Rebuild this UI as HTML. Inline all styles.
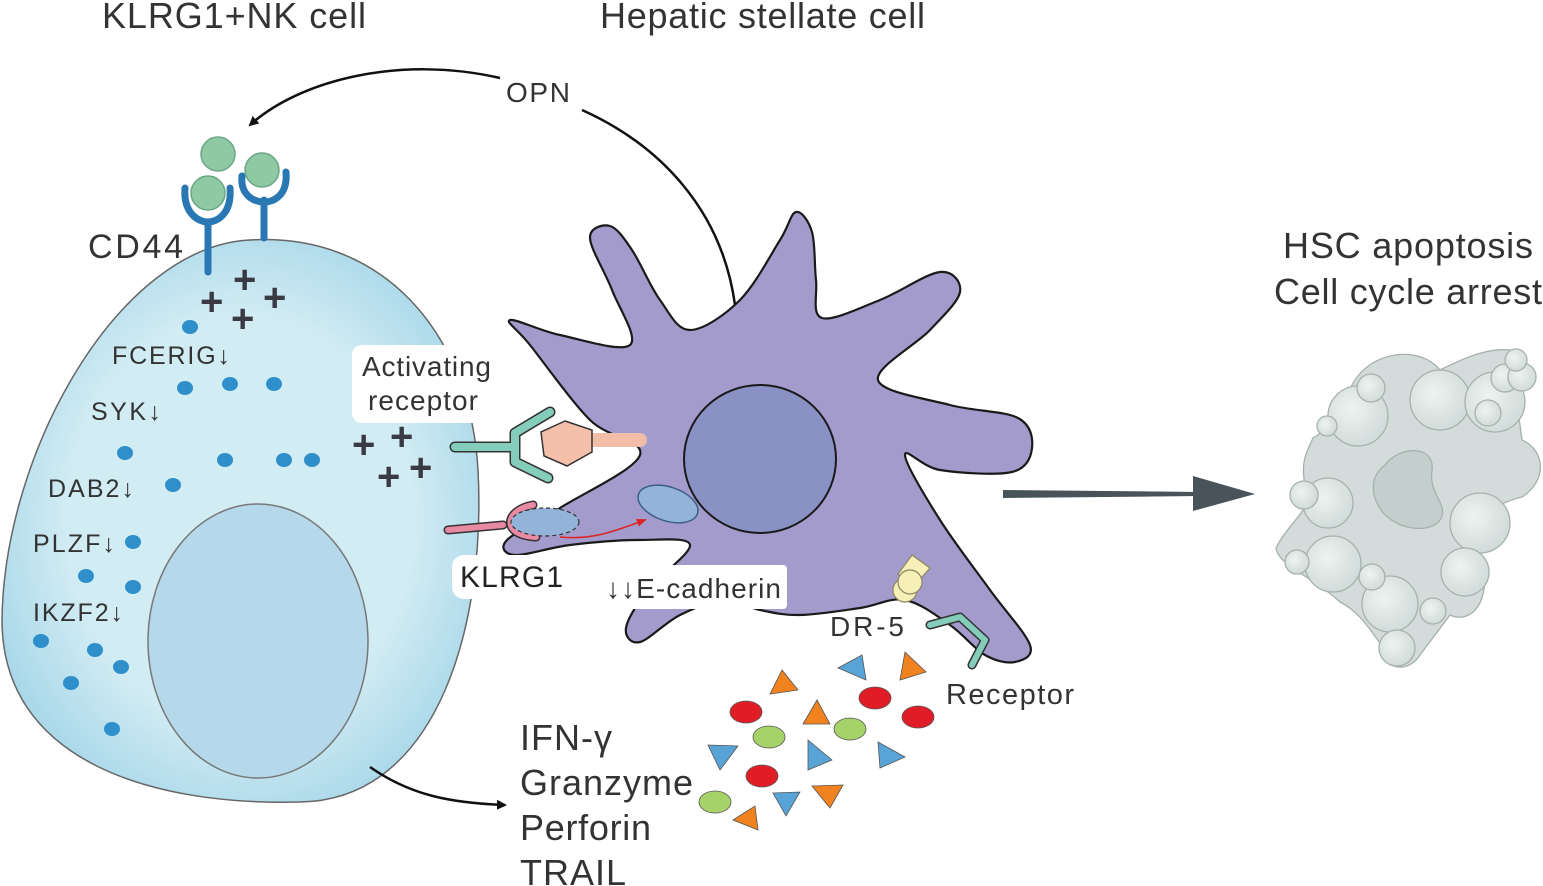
<!DOCTYPE html>
<html><head><meta charset="utf-8"><style>
html,body{margin:0;padding:0;background:#fff}
svg{display:block}
text{font-family:"Liberation Sans",sans-serif;fill:#333}
</style></head><body>
<svg id="s" width="1543" height="886" viewBox="0 0 1543 886" xmlns="http://www.w3.org/2000/svg">
<defs>
<radialGradient id="nk" cx="0.5" cy="0.5" r="0.6">
<stop offset="0.6" stop-color="#d2ecf4"/><stop offset="1" stop-color="#9fd3e6"/></radialGradient>
<radialGradient id="gb" cx="0.4" cy="0.4" r="0.7"><stop offset="0" stop-color="#eef3f1"/><stop offset="1" stop-color="#cdd8d6"/></radialGradient>
<marker id="ah" markerWidth="10" markerHeight="10" refX="8" refY="5" orient="auto" markerUnits="userSpaceOnUse"><path d="M0,0 L10,5 L0,10 z" fill="#111"/></marker>
<marker id="ahr" markerWidth="10" markerHeight="10" refX="8" refY="5" orient="auto" markerUnits="userSpaceOnUse"><path d="M0,1 L10,5 L0,9 z" fill="#d22"/></marker>
</defs>

<text x="102" y="28" font-size="36" textLength="264">KLRG1+NK cell</text>
<text x="600" y="28" font-size="36" textLength="325">Hepatic stellate cell</text>
<text x="1283" y="258" font-size="36" textLength="250">HSC apoptosis</text>
<text x="1274" y="304" font-size="36" textLength="268">Cell cycle arrest</text>

<!-- OPN arc -->
<path d="M735,305 C722,210 660,145 582,110" fill="none" stroke="#111" stroke-width="2.5"/>
<path d="M500,78 C400,55 300,80 250,125" fill="none" stroke="#111" stroke-width="2.5" marker-end="url(#ah)"/>
<text x="506" y="102" font-size="28" textLength="64">OPN</text>

<!-- NK cell -->
<path d="M250,240 C380,232 470,330 478,470 C486,620 440,800 300,802 C150,806 2,760 2,620 C4,450 120,246 250,240 Z" fill="url(#nk)" stroke="#666" stroke-width="1.5"/>
<ellipse cx="258" cy="641" rx="110" ry="137" fill="#b5d8ea" stroke="#777" stroke-width="1.5"/>

<!-- CD44 -->
<g stroke="#2a78b3" stroke-width="7" fill="none" stroke-linecap="round">
<path d="M208,272 V222 M185,188 C183,215 200,222 208,222 C216,222 232,215 230,188"/>
<path d="M264,238 V200 M242,176 C240,196 255,202 264,202 C273,202 288,196 286,172"/>
</g>
<g fill="#8fc9a3" stroke="#6aa686" stroke-width="1.5">
<circle cx="218" cy="154" r="17"/><circle cx="262" cy="170" r="17"/><circle cx="208" cy="193" r="17"/>
</g>
<text x="88" y="258" font-size="34" textLength="95">CD44</text>
<g font-size="40" font-weight="bold">
<text x="233" y="293" style="fill:#3a3a44">+</text><text x="200" y="315" style="fill:#3a3a44">+</text><text x="263" y="311" style="fill:#3a3a44">+</text><text x="231" y="332" style="fill:#3a3a44">+</text>
<text x="352" y="458" style="fill:#3a3a44">+</text><text x="390" y="450" style="fill:#3a3a44">+</text><text x="377" y="490" style="fill:#3a3a44">+</text><text x="409" y="481" style="fill:#3a3a44">+</text>
</g>
<g fill="#2e8fca">
<ellipse cx="190" cy="327" rx="8" ry="7"/><ellipse cx="185" cy="388" rx="8" ry="7"/><ellipse cx="230" cy="384" rx="8" ry="7"/><ellipse cx="274" cy="384" rx="8" ry="7"/>
<ellipse cx="125" cy="453" rx="8" ry="7"/><ellipse cx="225" cy="460" rx="8" ry="7"/><ellipse cx="284" cy="460" rx="8" ry="7"/><ellipse cx="312" cy="460" rx="8" ry="7"/>
<ellipse cx="173" cy="485" rx="8" ry="7"/><ellipse cx="133" cy="542" rx="8" ry="7"/><ellipse cx="86" cy="576" rx="8" ry="7"/><ellipse cx="133" cy="587" rx="8" ry="7"/>
<ellipse cx="41" cy="641" rx="8" ry="7"/><ellipse cx="95" cy="650" rx="8" ry="7"/><ellipse cx="121" cy="667" rx="8" ry="7"/><ellipse cx="71" cy="683" rx="8" ry="7"/><ellipse cx="112" cy="729" rx="8" ry="7"/>
</g>
<g font-size="25">
<text x="112" y="364" textLength="118">FCERIG↓</text><text x="91" y="420" textLength="70">SYK↓</text><text x="48" y="497" textLength="86">DAB2↓</text><text x="33" y="552" textLength="82">PLZF↓</text><text x="33" y="621" textLength="90">IKZF2↓</text>
</g>

<!-- Stellate cell -->
<path id="hsc" d="" fill="#a39bcb" stroke="#1a1a1a" stroke-width="2.2"/>
<ellipse cx="760" cy="459" rx="76" ry="74" fill="#8a91c5" stroke="#1a1a1a" stroke-width="2"/>
<ellipse cx="668" cy="504" rx="31" ry="17" transform="rotate(18 668 504)" fill="#93b4d8" stroke="#3b5e86" stroke-width="1.5"/>

<!-- activating receptor -->
<rect x="352" y="345" width="145" height="78" rx="10" fill="#fff"/>
<text x="362" y="376" font-size="28" textLength="129">Activating</text><text x="368" y="410" font-size="28" textLength="110">receptor</text>
<path d="M586,440 L640,440" stroke="#f1bfa9" stroke-width="14" stroke-linecap="round"/>
<path d="M565,421 L592,430 L592,452 L567,466 L544,456 L541,432 Z" fill="#f4c0aa" stroke="#333" stroke-width="1.5"/>
<g stroke="#333" stroke-width="11" fill="none" stroke-linecap="round" stroke-linejoin="round"><path d="M455,447 H515 M550,412 L515,433 V462 L548,478"/></g>
<g stroke="#84cdbb" stroke-width="8" fill="none" stroke-linecap="round" stroke-linejoin="round"><path d="M455,447 H515 M550,412 L515,433 V462 L548,478"/></g>

<!-- KLRG1 -->
<g stroke="#333" stroke-width="9" fill="none" stroke-linecap="round"><path d="M448,530 L503,525 M533,505 C505,510 500,535 536,537"/></g>
<g stroke="#e88aa3" stroke-width="6" fill="none" stroke-linecap="round"><path d="M448,530 L503,525 M533,505 C505,510 500,535 536,537"/></g>
<ellipse cx="545" cy="522" rx="34" ry="14" fill="#93b4d8" stroke="#333" stroke-width="1.2" stroke-dasharray="4,3"/>
<path d="M560,537 C590,540 610,533 645,520" fill="none" stroke="#d22" stroke-width="1.5" marker-end="url(#ahr)"/>
<rect x="452" y="555" width="122" height="44" rx="12" fill="#fff"/>
<text x="460" y="587" font-size="30" textLength="103" style="fill:#222">KLRG1</text>
<rect x="602" y="565" width="185" height="44" rx="4" fill="#fff"/>
<text x="606" y="598" font-size="28" textLength="175">↓↓E-cadherin</text>

<!-- DR-5 -->
<g fill="#f6efb8" stroke="#8b8660" stroke-width="1.2">
<path d="M912,555 L930,568 L915,585 L898,574 Z"/><circle cx="905" cy="590" r="12"/><circle cx="910" cy="582" r="12"/>
</g>
<text x="830" y="636" font-size="28" textLength="74">DR-5</text>
<g stroke="#333" stroke-width="9" fill="none" stroke-linecap="round" stroke-linejoin="round"><path d="M930,625 L960,617 L985,640 L972,665"/></g>
<g stroke="#84cdbb" stroke-width="6" fill="none" stroke-linecap="round" stroke-linejoin="round"><path d="M930,625 L960,617 L985,640 L972,665"/></g>
<text x="946" y="704" font-size="29" textLength="128">Receptor</text>

<!-- cytokines -->
<g stroke="#555" stroke-width="0.8">
<g fill="#e01d26"><ellipse cx="746" cy="712" rx="16" ry="11"/><ellipse cx="875" cy="698" rx="16" ry="11"/><ellipse cx="918" cy="717" rx="16" ry="11"/><ellipse cx="762" cy="776" rx="16" ry="11"/></g>
<g fill="#a6d26a"><ellipse cx="769" cy="737" rx="16" ry="11"/><ellipse cx="850" cy="729" rx="16" ry="11"/><ellipse cx="715" cy="802" rx="16" ry="11"/></g>
<g fill="#f0831f"><path d="M770,694 L782,670 L798,690 Z"/><path d="M900,680 L905,652 L926,672 Z"/><path d="M803,724 L817,700 L830,724 Z"/><path d="M812,786 L843,785 L830,808 Z"/><path d="M733,820 L755,806 L758,830 Z"/></g>
<g fill="#58a4d6"><path d="M838,668 L862,655 L866,680 Z"/><path d="M708,745 L738,746 L720,770 Z"/><path d="M808,740 L832,760 L808,770 Z"/><path d="M878,742 L905,757 L880,768 Z"/><path d="M773,793 L800,792 L786,816 Z"/></g>
</g>
<g font-size="36"><text x="520" y="750" textLength="92">IFN-γ</text><text x="520" y="795" textLength="173">Granzyme</text><text x="520" y="840" textLength="131">Perforin</text><text x="520" y="885" textLength="106">TRAIL</text></g>
<path d="M370,767 C410,795 450,803 505,805" fill="none" stroke="#111" stroke-width="2.5" marker-end="url(#ah)"/>

<!-- big arrow -->
<path d="M1003,490 L1200,492 L1200,496 L1003,498 Z" fill="#48535a"/>
<path d="M1193,476 L1255,494 L1193,511 Z" fill="#48535a"/>

<!-- apoptotic cell -->
<g stroke="#a6b1ae" stroke-width="1.3">
<path d="M1352,385 C1370,350 1420,345 1440,370 C1470,355 1490,348 1510,350 L1522,440 C1545,450 1548,480 1522,497 C1490,505 1470,520 1482,560 C1492,600 1472,625 1450,615 L1420,655 C1410,672 1385,672 1385,650 C1370,630 1360,612 1340,602 C1310,575 1278,565 1276,548 C1290,520 1318,505 1305,485 C1300,460 1308,450 1313,438 C1330,428 1338,418 1352,385 Z" fill="#d3dcda"/>
<path d="M1385,465 C1400,445 1435,445 1432,470 C1428,495 1450,505 1440,520 C1430,535 1390,530 1378,505 C1370,490 1372,475 1385,465 Z" fill="#c4cfcd"/>
<g fill="url(#gb)">
<circle cx="1358" cy="416" r="30"/><circle cx="1440" cy="400" r="30"/><circle cx="1495" cy="402" r="30"/><circle cx="1480" cy="523" r="30"/><circle cx="1328" cy="503" r="25"/><circle cx="1333" cy="564" r="28"/><circle cx="1390" cy="604" r="28"/><circle cx="1397" cy="648" r="18"/><circle cx="1465" cy="572" r="24"/>
<circle cx="1371" cy="388" r="14"/><circle cx="1505" cy="378" r="14"/><circle cx="1522" cy="377" r="14"/><circle cx="1516" cy="360" r="11"/><circle cx="1488" cy="413" r="13"/><circle cx="1304" cy="495" r="14"/><circle cx="1297" cy="562" r="12"/><circle cx="1372" cy="577" r="13"/><circle cx="1433" cy="611" r="13"/><circle cx="1327" cy="426" r="10"/>
</g></g>
</svg>
<script>
var P=[[510,320],[560,335],[630,345],[612,290],[590,238],[610,226],[632,250],[660,300],[690,330],[740,300],[780,240],[796,212],[812,232],[816,280],[822,318],[880,300],[940,272],[960,292],[930,330],[878,380],[950,405],[1018,418],[1032,448],[1012,472],[940,470],[905,455],[940,520],[990,590],[1030,645],[1015,662],[985,655],[950,625],[905,600],[860,608],[800,615],[760,610],[725,600],[680,615],[640,642],[626,628],[648,590],[690,545],[640,540],[570,545],[515,555],[507,540],[560,508],[640,455],[590,420],[530,345]];
function cr(p){var n=p.length,d="M"+p[0][0]+","+p[0][1];for(var i=0;i<n;i++){var a=p[(i-1+n)%n],b=p[i],c=p[(i+1)%n],e=p[(i+2)%n];var c1=[b[0]+(c[0]-a[0])/6,b[1]+(c[1]-a[1])/6],c2=[c[0]-(e[0]-b[0])/6,c[1]-(e[1]-b[1])/6];d+=" C"+c1[0].toFixed(1)+","+c1[1].toFixed(1)+" "+c2[0].toFixed(1)+","+c2[1].toFixed(1)+" "+c[0]+","+c[1];}return d+"Z";}
document.getElementById("hsc").setAttribute("d",cr(P));
</script>
</body></html>
